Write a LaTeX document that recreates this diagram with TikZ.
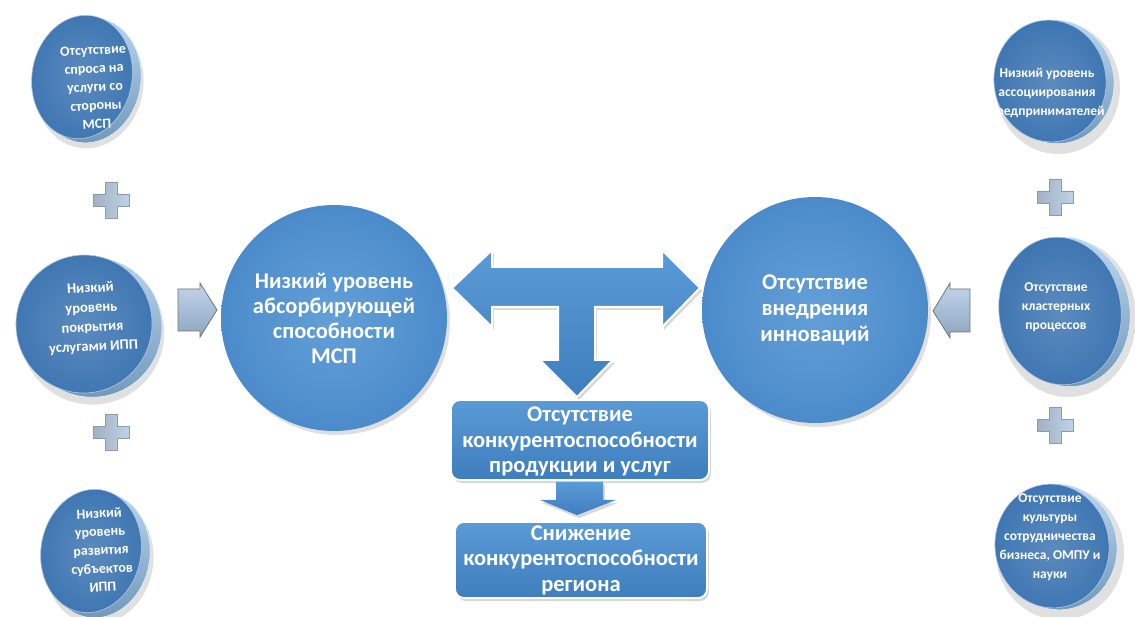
\documentclass[tikz,border=0pt]{standalone}
\usepackage{fontspec}
\setmainfont{Carlito}
\usetikzlibrary{shadows,calc}
\definecolor{circblue}{HTML}{5B9BD5}
\definecolor{circedge}{HTML}{4C8BCB}
\definecolor{boxtop}{HTML}{5A9AD5}
\definecolor{boxbot}{HTML}{3F7EBE}
\definecolor{diskface}{HTML}{3E76B2}
\definecolor{diskrim}{HTML}{8CBCE6}
\definecolor{plusfill}{HTML}{AFC6E0}
\definecolor{plusedge}{HTML}{8C9AAC}
\definecolor{sidearrow}{HTML}{A7C3E3}
\tikzset{
  bigcirc/.style={circle, minimum size=226pt, inner color=circblue!95!white, outer color=circedge,
     text=white, font=\bfseries\fontsize{22.5}{25}\selectfont, align=center,
     drop shadow={opacity=0.25, shadow xshift=3pt, shadow yshift=-4pt}},
  resbox/.style={rounded corners=9pt, top color=boxtop, bottom color=boxbot, draw=white, line width=1.8pt,
     text=white, font=\bfseries\fontsize{22.5}{25.5}\selectfont, align=center, inner sep=1pt,
     drop shadow={opacity=0.3, shadow xshift=2pt, shadow yshift=-3pt}},
  bigarrow/.style={top color=boxtop, bottom color=boxbot, draw=white, line width=2pt, line join=miter,
     drop shadow={opacity=0.3, shadow xshift=2pt, shadow yshift=-3pt}},
  sidestyle/.style={top color=sidearrow!70!white, bottom color=sidearrow!85!black, draw=black!55, line width=0.8pt},
  plusstyle/.style={left color=plusfill!70!gray, right color=plusfill!80!white, draw=plusedge, line width=0.8pt},
  disktext/.style={text=white, font=\bfseries\fontsize{14}{18.5}\selectfont, align=center, inner sep=0pt},
  rdisktext/.style={text=white, font=\bfseries\fontsize{13.5}{19}\selectfont, align=center, inner sep=0pt},
  rimstyle/.style={top color=diskrim!60!white, bottom color=diskrim!80!black, draw=white!85!diskrim, line width=0.5pt},
  facestyle/.style={inner color=diskface!85!white, outer color=diskface, draw=white!60!diskface, line width=0.6pt},
  plussign/.pic={
    \path[plusstyle] (-6,-18) -- (6,-18) -- (6,-6) -- (18,-6) -- (18,6) -- (6,6) -- (6,18)
      -- (-6,18) -- (-6,6) -- (-18,6) -- (-18,-6) -- (-6,-6) -- cycle;
  }
}
\begin{document}
\begin{tikzpicture}[x=1pt,y=-1pt]
\useasboundingbox (0,0) rectangle (1135,617);
\fill[white] (0,0) rectangle (1135,617);

% ---------- left disks ----------
\fill[black,opacity=0.12,rotate around={-10:(86,80)}] (90,84) ellipse [x radius=54, y radius=64];
\path[rimstyle,rotate around={-10:(88,79)}] (89,80) ellipse [x radius=52, y radius=63];
\path[facestyle,rotate around={-10:(82,77)}] (82,77) ellipse [x radius=50, y radius=62];
\node[disktext, rotate=3] (l1) at (95,87) {Отсутствие\\спроса на\\услуги со\\стороны\\МСП};

\fill[black,opacity=0.12,rotate around={-10:(89,328)}] (93,332) ellipse [x radius=72, y radius=72];
\path[rimstyle,rotate around={-10:(91,327)}] (92,327) ellipse [x radius=70, y radius=70];
\path[facestyle,rotate around={-10:(84,324)}] (84,324) ellipse [x radius=68, y radius=69];
\node[disktext, rotate=3, font=\bfseries\fontsize{14.5}{19.5}\selectfont] (l2) at (92,318) {Низкий\\уровень\\покрытия\\услугами ИПП};

\fill[black,opacity=0.12,rotate around={-10:(96,556)}] (100,560) ellipse [x radius=54, y radius=64];
\path[rimstyle,rotate around={-10:(97,554)}] (98,555) ellipse [x radius=52, y radius=63];
\path[facestyle,rotate around={-10:(91,551)}] (91,551) ellipse [x radius=50, y radius=62];
\node[disktext, rotate=3] (l3) at (101,550) {Низкий\\уровень\\развития\\субъектов\\ИПП};

% ---------- right disks ----------
\fill[black,opacity=0.12] (1058,88) ellipse [x radius=62, y radius=66];
\path[rimstyle,rotate around={8:(1055,82)}] (1056,82) ellipse [x radius=58, y radius=62];
\path[facestyle,rotate around={8:(1050,81)}] (1050,81) ellipse [x radius=56, y radius=61];
\node[rdisktext] (r1) at (1047,93) {Низкий уровень\\ассоциирования\\предпринимателей};

\fill[black,opacity=0.12] (1068,318) ellipse [x radius=68, y radius=79];
\path[rimstyle,rotate around={8:(1066,312)}] (1067,312) ellipse [x radius=63, y radius=75];
\path[facestyle,rotate around={8:(1060,311)}] (1060,311) ellipse [x radius=61, y radius=74];
\node[rdisktext] (r2) at (1056,307) {Отсутствие\\кластерных\\процессов};

\fill[black,opacity=0.12] (1060,553) ellipse [x radius=64, y radius=67];
\path[rimstyle,rotate around={8:(1057,547)}] (1058,547) ellipse [x radius=59, y radius=63];
\path[facestyle,rotate around={8:(1052,546)}] (1052,546) ellipse [x radius=57, y radius=62];
\node[rdisktext] (r3) at (1050,537) {Отсутствие\\культуры\\сотрудничества\\бизнеса, ОМПУ и\\науки};

% ---------- plus signs ----------
\pic at (111,200) {plussign};
\pic at (111,432) {plussign};
\pic at (1055,197) {plussign};
\pic at (1055,425) {plussign};

% ---------- side arrows ----------
\path[sidestyle] (178,289) -- (200,289) -- (200,283) -- (217,310) -- (200,337) -- (200,331) -- (178,331) -- cycle;
\path[sidestyle] (970,289) -- (950,289) -- (950,283) -- (933,311) -- (950,338) -- (950,332) -- (970,332) -- cycle;

% ---------- big circles ----------
\node[bigcirc] (c1) at (334,318) {Низкий уровень\\абсорбирующей\\способности\\МСП};
\node[bigcirc, font=\bfseries\fontsize{22.5}{26}\selectfont] (c2) at (815,310) {Отсутствие\\внедрения\\инноваций};

% ---------- T arrow ----------
\path[bigarrow] (452,288) -- (492,250) -- (492,267) -- (662,267) -- (662,250) -- (700,288)
   -- (662,327) -- (662,307) -- (595,307) -- (595,360) -- (613,360) -- (577,397) -- (540,360)
   -- (558,360) -- (558,307) -- (492,307) -- (492,327) -- cycle;

% ---------- boxes ----------
\node[resbox, minimum width=258pt, minimum height=80pt, text depth=0pt] (b1) at (580,440) {Отсутствие\\конкурентоспособности\\продукции и услуг};
\node[resbox, minimum width=252pt, minimum height=76pt] (b2) at (581,560) {Снижение\\конкурентоспособности\\региона};

\path[bigarrow, draw=none] ($(b1.south)+(-24,1)$) -- ($(b1.south)+(23,1)$) -- ($(b1.south)+(23,19)$)
   -- ($(b1.south)+(36,19)$) -- ($(b2.north)+(-4,-6)$) -- ($(b1.south)+(-40,19)$) -- ($(b1.south)+(-24,19)$) -- cycle;
\end{tikzpicture}
\end{document}
